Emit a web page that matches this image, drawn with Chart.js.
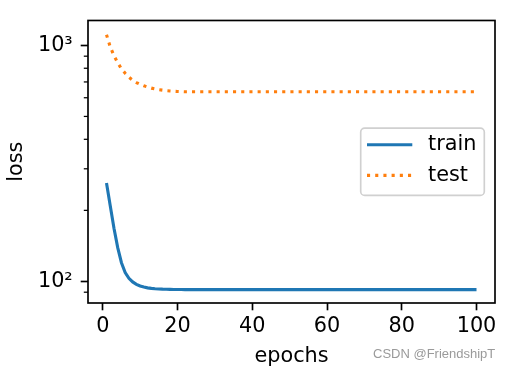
<!DOCTYPE html>
<html>
<head>
<meta charset="utf-8">
<script src="https://cdn.jsdelivr.net/npm/chart.js@4/dist/chart.umd.min.js"></script>
<style>
  html, body { margin: 0; padding: 0; background: #fff; }
  #wrap { position: relative; width: 510px; height: 372px; }
  #mark { position: absolute; left: 373px; top: 346px; font: 13px "Liberation Sans", Arial, sans-serif; color: #9a9a9a; white-space: nowrap; }
</style>
</head>
<body>
<div id="wrap">
  <canvas id="chart" width="510" height="372"></canvas>
  <div id="mark">CSDN @FriendshipT</div>
</div>
<script>
// epochs 1..100
const epochs = Array.from({ length: 100 }, (_, i) => i + 1);

// loss values (log axis)
const trainLoss = [
  261, 209, 168, 139, 120, 109, 103, 99.5, 97.2, 95.6,
  94.6, 93.9, 93.4, 93.1, 92.9, 92.7, 92.6, 92.5, 92.4, 92.4,
  92.4, 92.3, 92.3, 92.3, 92.3, 92.3, 92.3, 92.3, 92.3, 92.3,
  92.3, 92.3, 92.3, 92.3, 92.3, 92.3, 92.3, 92.3, 92.3, 92.3,
  92.3, 92.3, 92.3, 92.3, 92.3, 92.3, 92.3, 92.3, 92.3, 92.3,
  92.3, 92.3, 92.3, 92.3, 92.3, 92.3, 92.3, 92.3, 92.3, 92.3,
  92.3, 92.3, 92.3, 92.3, 92.3, 92.3, 92.3, 92.3, 92.3, 92.3,
  92.3, 92.3, 92.3, 92.3, 92.3, 92.3, 92.3, 92.3, 92.3, 92.3,
  92.3, 92.3, 92.3, 92.3, 92.3, 92.3, 92.3, 92.3, 92.3, 92.3,
  92.3, 92.3, 92.3, 92.3, 92.3, 92.3, 92.3, 92.3, 92.3, 92.3
];
const testLoss = [
  1110, 985, 905, 845, 795, 762, 733, 711, 696, 684,
  674, 666, 659, 654, 649, 646, 643, 641, 639, 638,
  637, 636, 636, 636, 636, 636, 636, 636, 636, 636,
  636, 636, 636, 636, 636, 636, 636, 636, 636, 636,
  636, 636, 636, 636, 636, 636, 636, 636, 636, 636,
  636, 636, 636, 636, 636, 636, 636, 636, 636, 636,
  636, 636, 636, 636, 636, 636, 636, 636, 636, 636,
  636, 636, 636, 636, 636, 636, 636, 636, 636, 636,
  636, 636, 636, 636, 636, 636, 636, 636, 636, 636,
  636, 636, 636, 636, 636, 636, 636, 636, 636, 636
];

const xTicks = [0, 20, 40, 60, 80, 100];
const yTicks = [100, 1000];
const yTickLabels = ['10²', '10³'];
const yMinorTicks = [90, 200, 300, 400, 500, 600, 700, 800, 900];

const FONT = '"DejaVu Sans", sans-serif';
const FS = 20.8;

// frame, minor ticks and legend
const extras = {
  id: 'extras',
  afterDraw(chart) {
    const ctx = chart.ctx;
    const ca = chart.chartArea;
    const ys = chart.scales.y;
    ctx.save();

    // minor ticks on log axis
    ctx.strokeStyle = '#000';
    ctx.lineWidth = 1.25;
    yMinorTicks.forEach(v => {
      const py = ys.getPixelForValue(v);
      if (py < ca.top || py > ca.bottom) return;
      ctx.beginPath();
      ctx.moveTo(ca.left - 4.2, py);
      ctx.lineTo(ca.left, py);
      ctx.stroke();
    });

    // axes frame
    ctx.lineWidth = 1.67;
    ctx.strokeRect(ca.left, ca.top, ca.right - ca.left, ca.bottom - ca.top);

    // legend (center right)
    const bw = 123.6, bh = 67.3;
    const bx = ca.right - 10.7 - bw;
    const by = (ca.top + ca.bottom) / 2 - bh / 2;
    ctx.beginPath();
    ctx.roundRect(bx, by, bw, bh, 4);
    ctx.fillStyle = 'rgba(255,255,255,0.8)';
    ctx.fill();
    ctx.strokeStyle = '#d0d0d0';
    ctx.lineWidth = 1.67;
    ctx.stroke();

    ctx.font = FS + 'px ' + FONT;
    ctx.textBaseline = 'middle';
    ctx.textAlign = 'left';
    chart.data.datasets.forEach((ds, i) => {
      const ly = by + 16.6 + i * 30.7;
      ctx.beginPath();
      ctx.setLineDash(ds.borderDash || []);
      ctx.lineCap = 'butt';
      ctx.strokeStyle = ds.borderColor;
      ctx.lineWidth = ds.borderWidth;
      ctx.moveTo(bx + 6.3, ly);
      ctx.lineTo(bx + 51.6, ly);
      ctx.stroke();
      ctx.setLineDash([]);
      ctx.fillStyle = '#000';
      ctx.fillText(ds.label, bx + 67.3, ly);
    });
    ctx.restore();
  }
};

new Chart(document.getElementById('chart'), {
  type: 'line',
  data: {
    datasets: [
      {
        label: 'train',
        data: epochs.map((e, i) => ({ x: e, y: trainLoss[i] })),
        borderColor: '#1f77b4',
        borderWidth: 3.1,
        pointRadius: 0,
        tension: 0,
        fill: false
      },
      {
        label: 'test',
        data: epochs.map((e, i) => ({ x: e, y: testLoss[i] })),
        borderColor: '#ff7f0e',
        borderWidth: 3.1,
        borderDash: [3.1, 5.1],
        borderCapStyle: 'butt',
        pointRadius: 0,
        tension: 0,
        fill: false
      }
    ]
  },
  options: {
    responsive: false,
    animation: false,
    layout: { padding: { top: 19, right: 15, left: 0, bottom: 0 } },
    plugins: {
      legend: { display: false },
      tooltip: { enabled: false }
    },
    scales: {
      x: {
        type: 'linear',
        min: -3.95,
        max: 104.95,
        afterBuildTicks: s => { s.ticks = xTicks.map(v => ({ value: v })); },
        afterFit: s => { s.height = 69; },
        border: { display: false },
        grid: { drawOnChartArea: false, drawTicks: true, tickLength: 7.3, tickWidth: 1.67, tickColor: '#000' },
        ticks: { color: '#000', font: { family: FONT, size: FS }, padding: 4, maxRotation: 0, autoSkip: false },
        title: { display: true, text: 'epochs', color: '#000', font: { family: FONT, size: FS }, padding: { top: 0, bottom: 3 } }
      },
      y: {
        type: 'logarithmic',
        min: 81,
        max: 1275,
        afterBuildTicks: s => { s.ticks = yTicks.map(v => ({ value: v })); },
        afterFit: s => { s.width = 88; },
        border: { display: false },
        grid: { drawOnChartArea: false, drawTicks: true, tickLength: 7.3, tickWidth: 1.67, tickColor: '#000' },
        ticks: {
          color: '#000',
          font: { family: FONT, size: FS },
          padding: 8,
          autoSkip: false,
          callback: v => {
            const k = yTicks.indexOf(v);
            return k >= 0 ? yTickLabels[k] : '';
          }
        },
        title: { display: true, text: 'loss', color: '#000', font: { family: FONT, size: FS }, padding: { top: 4, bottom: 0 } }
      }
    }
  },
  plugins: [extras]
});
</script>
</body>
</html>
